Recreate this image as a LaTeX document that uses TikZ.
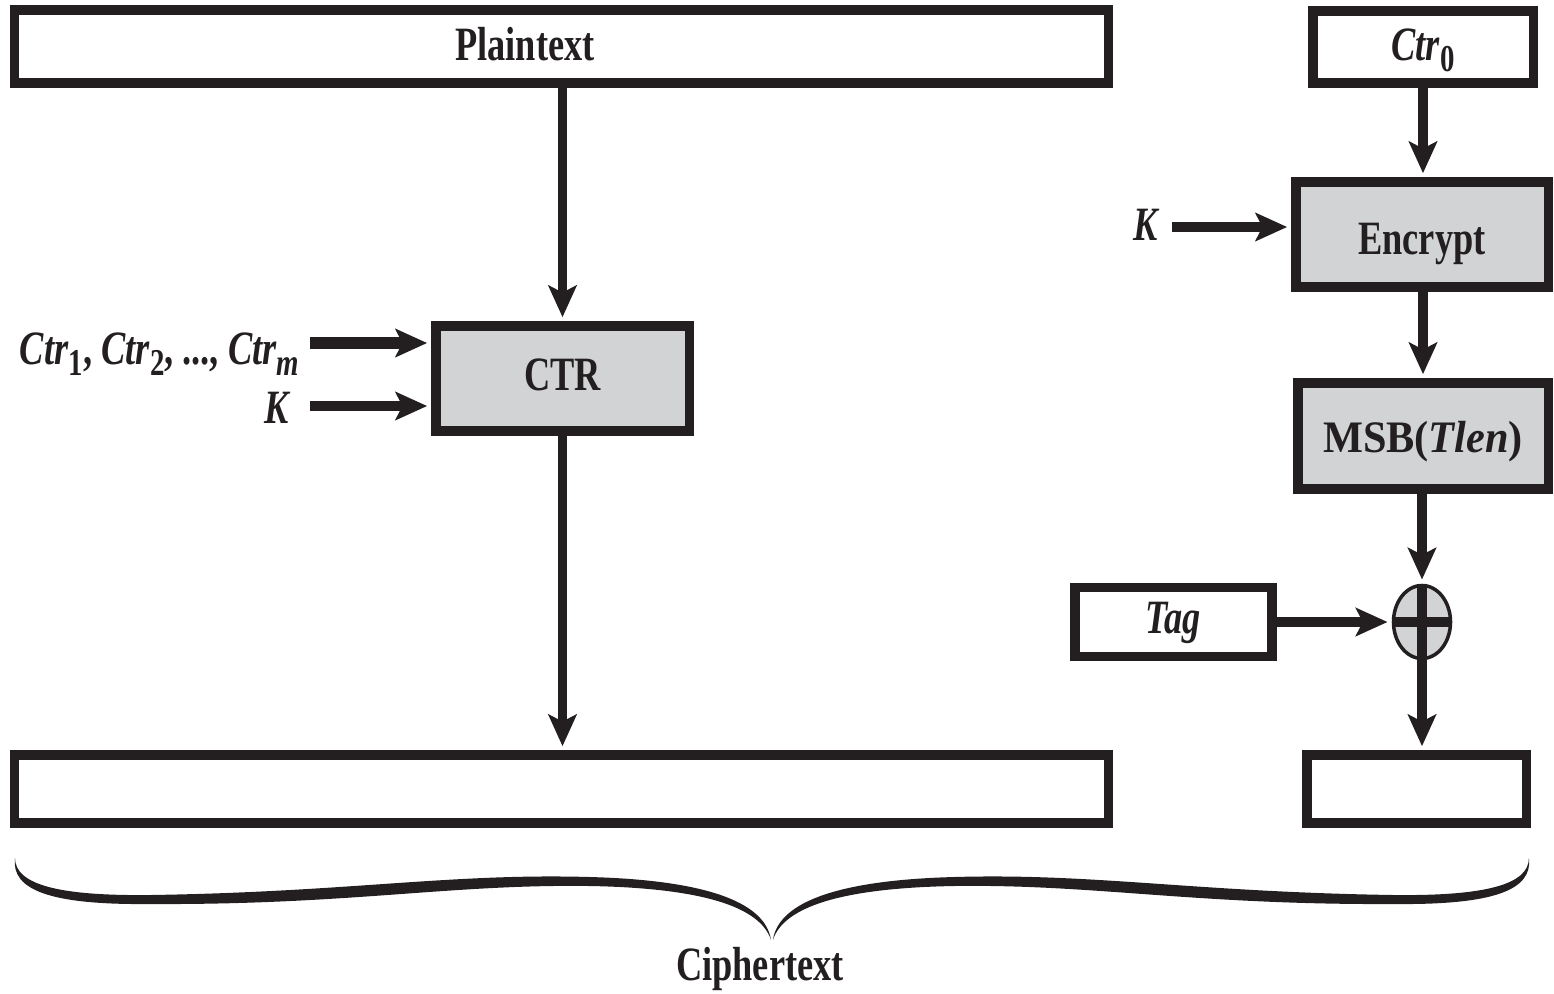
\documentclass[tikz,border=0pt]{standalone}
\usepackage{fontspec}
\setmainfont[FakeStretch=0.76]{Liberation Serif}
\newfontfamily\wideserif[FakeStretch=0.94]{Liberation Serif}
\usetikzlibrary{arrows.meta,shapes.geometric}
\definecolor{ink}{HTML}{231F20}
\definecolor{boxgray}{HTML}{D1D3D4}
\newcommand\subs[1]{\raisebox{-3.2pt}{\fontsize{10.8}{11}\selectfont #1}}
\begin{document}
\begin{tikzpicture}[x=0.01cm,y=-0.01cm,
  every node/.style={font=\fontsize{13.6}{16}\selectfont\bfseries, text=ink},
  blk/.style={draw=ink, line width=2.6pt, inner sep=0pt, text depth=0pt},
  plain/.style={blk, fill=white},
  proc/.style={blk, fill=boxgray},
  arr/.style={draw=ink, line width=2.6pt, shorten >=1.2pt, -{Stealth[length=9pt,width=8pt,inset=2pt]}},
  lbl/.style={inner sep=0pt}
]
\useasboundingbox (0,0) rectangle (1554,993);
% boxes
\node[plain, minimum width=10.93cm, minimum height=0.73cm] (pt) at (561.5,46.5) {};
\node[lbl, anchor=base] (ptl) at (525,60) {Plaintext};
\node[plain, minimum width=2.20cm, minimum height=0.72cm, text height=7.4pt] (c0) at (1423,47) {\textit{Ctr}\subs{0}};
\node[proc, minimum width=2.52cm, minimum height=1.05cm, text height=11.6pt] (enc) at (1422,234.5) {Encrypt};
\node[proc, minimum width=2.50cm, minimum height=1.06cm, text height=9.1pt, font=\fontsize{12.8}{15}\wideserif\bfseries] (msb) at (1423,436) {MSB(\textit{Tlen})};
\node[proc, minimum width=2.53cm, minimum height=1.05cm, text height=7.1pt] (ctr) at (562.5,378.5) {CTR};
\node[draw=ink, fill=boxgray, ellipse, line width=1pt, inner sep=0pt, minimum width=0.57cm, minimum height=0.73cm] (xor) at (1422,622) {};
\draw[ink, line width=2.6pt] (xor.west) -- (xor.east) (xor.north) -- (xor.south);
\node[plain, minimum width=1.97cm, minimum height=0.69cm, text height=6.8pt] (tag) at (1173.5,622) {\textit{Tag}};
\node[plain, minimum width=2.19cm, minimum height=0.68cm] (br) at (1416.5,789) {};
\node[plain, minimum width=10.93cm, minimum height=0.68cm] (bl) at (561.5,789) {};
% labels
\node[lbl, anchor=base east] (kenc) at (1160,240) {\textit{K}};
\node[lbl, anchor=base east] (ctrs) at (300,364) {\textit{Ctr}\subs{1}, \textit{Ctr}\subs{2}, ..., \textit{Ctr}\subs{\textit{m}}};
\node[lbl, anchor=base east] (kctr) at (291,423) {\textit{K}};
\node[lbl, anchor=base] (ct) at (760,980) {Ciphertext};
\coordinate (ks) at (1172,227);
\coordinate (a1) at (310,343);
\coordinate (a2) at (310,406);
% arrows
\draw[arr] (ctr.north |- pt.south) -- (ctr.north);
\draw[arr] (ctr.south) -- (bl.north -| ctr.south);
\draw[arr] (c0.south) -- (enc.north -| c0.south);
\draw[arr] (enc.south -| c0.south) -- (msb.north -| c0.south);
\draw[arr] (msb.south -| xor.north) -- (xor.north);
\draw[arr] (tag.east) -- (xor.west);
\draw[arr] (xor.south) -- (br.north -| xor.south);
\draw[arr] (ks) -- (enc.west |- ks);
\draw[arr, line width=3.2pt] (a1) -- (ctr.west |- a1);
\draw[arr] (a2) -- (ctr.west |- a2);
% brace
\begin{scope}
\fill[ink] (15,858) .. controls (15,885) and (60,896) .. (150,895)
  .. controls (350,892) and (450,873) .. (590,877)
  .. controls (700,880) and (765,900) .. (771,940)
  .. controls (760,906) and (700,888) .. (590,886)
  .. controls (450,884) and (350,905) .. (150,904)
  .. controls (50,905) and (11,890) .. (15,858) -- cycle;
\end{scope}
\begin{scope}[xshift=15.43cm, xscale=-1]
\fill[ink] (15,858) .. controls (15,885) and (60,896) .. (150,895)
  .. controls (350,892) and (450,873) .. (590,877)
  .. controls (700,880) and (765,900) .. (771,940)
  .. controls (760,906) and (700,888) .. (590,886)
  .. controls (450,884) and (350,905) .. (150,904)
  .. controls (50,905) and (11,890) .. (15,858) -- cycle;
\end{scope}
\end{tikzpicture}
\end{document}
